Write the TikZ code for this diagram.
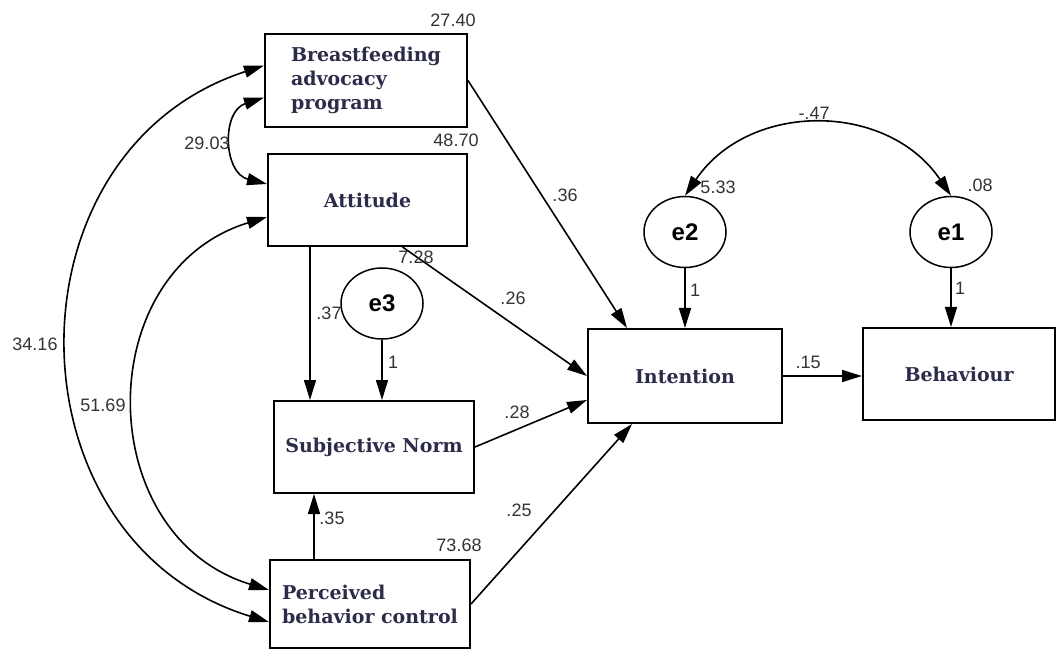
\documentclass[tikz,border=0pt]{standalone}
\usepackage{fontspec}
\setmainfont{DejaVu Serif}
\newfontfamily\numfont{Liberation Sans}
\usepackage{tikz}
\usetikzlibrary{positioning,arrows.meta,shapes.geometric}
\definecolor{boxtext}{HTML}{2B2B4A}
\definecolor{numtext}{HTML}{333333}

\begin{document}
\begin{tikzpicture}[
x=1pt, y=1pt,
box/.style={draw, line width=2pt, minimum width=200pt, minimum height=92pt, align=left, text=boxtext, font=\bfseries\fontsize{19}{24}\selectfont},
err/.style={draw, ellipse, line width=1.5pt, minimum width=82pt, minimum height=71pt, font=\numfont\bfseries\fontsize{24}{24}\selectfont},
num/.style={text=numtext, inner sep=1pt, font=\numfont\fontsize{18}{18}\selectfont},
arrow/.style={-{Triangle[length=20pt,width=12pt]}, line width=1.6pt},
covar/.style={{Triangle[length=20pt,width=12pt]}-{Triangle[length=20pt,width=12pt]}, line width=1.6pt}
]
\useasboundingbox (0,0) rectangle (1056,651);
% variables
\node[box, minimum width=202pt, minimum height=93pt] (bap) at (366,570.5) {Breastfeeding\\advocacy\\program};
\node[box, minimum width=199pt] (att) at (367.5,451) {Attitude};
\node[box] (sn) at (374,204) {Subjective Norm};
\node[box, minimum height=88pt] (pbc) at (370,47) {Perceived\\behavior control};
\node[box, minimum width=194pt, minimum height=94pt] (int) at (685,275) {Intention};
\node[box, minimum width=192pt] (beh) at (959,277) {Behaviour};
\node[err] (e3) at (382,347.5) {e3};
\node[err] (e2) at (685,419) {e2};
\node[err] (e1) at (951,419) {e1};

% paths
\draw[arrow] (bap.east) -- ([xshift=-58pt]int.north);
\draw[arrow] ([xshift=35pt]att.south) -- (int.west);
\draw[arrow] ([xshift=-57.5pt]att.south) -- ([xshift=-57.5pt]att.south |- sn.north);
\draw[arrow] (e3.south) -- (e3.south |- sn.north);
\draw[arrow] ([xshift=-56pt]pbc.north) -- ([xshift=-56pt]pbc.north |- sn.south);
\draw[arrow] (sn.east) -- ([yshift=-24pt]int.west);
\draw[arrow] (pbc.east) -- ([xshift=-53pt]int.south);
\draw[arrow] (e2.south) -- (int.north);
\draw[arrow] (e1.south) -- (e1.south |- beh.north);
\draw[arrow] (int.east) -- (int.east -| beh.west);

% covariances
\draw[covar] ([yshift=15pt]bap.west) to[out=198,in=163,looseness=1.27] ([yshift=-18pt]pbc.west);
\draw[covar] ([yshift=-17pt]bap.west) to[out=198,in=166,looseness=1.33] ([yshift=16pt]att.west);
\draw[covar] ([yshift=-17pt]att.west) to[out=197,in=163,looseness=1.27] ([yshift=14pt]pbc.west);
\draw[covar] (e2.north) to[out=56,in=124,looseness=1.1] (e1.north);

% estimates
\node[num] (v-bap) at (453,631) {27.40};
\node[num] (v-att) at (456,511) {48.70};
\node[num] (v-pbc) at (459,106) {73.68};
\node[num] (v-sn) at (416,394) {7.28};
\node[num] (v-e2) at (718,464) {5.33};
\node[num] (v-e1) at (980,466) {.08};
\node[num] (c-bap-att) at (207,508) {29.03};
\node[num] (c-bap-pbc) at (35,307) {34.16};
\node[num] (c-att-pbc) at (103,246) {51.69};
\node[num] (c-e2-e1) at (814,538) {-.47};
\node[num] (w-att-sn) at (329,338) {.37};
\node[num] (w-att-int) at (513,353) {.26};
\node[num] (w-bap-int) at (565,456) {.36};
\node[num] (w-sn-int) at (517,239) {.28};
\node[num] (w-pbc-sn) at (332,133) {.35};
\node[num] (w-pbc-int) at (519,141) {.25};
\node[num] (w-int-beh) at (808,289) {.15};
\node[num] (w-e3) at (393,289) {1};
\node[num] (w-e2) at (695,361) {1};
\node[num] (w-e1) at (960,363) {1};
\end{tikzpicture}
\end{document}
